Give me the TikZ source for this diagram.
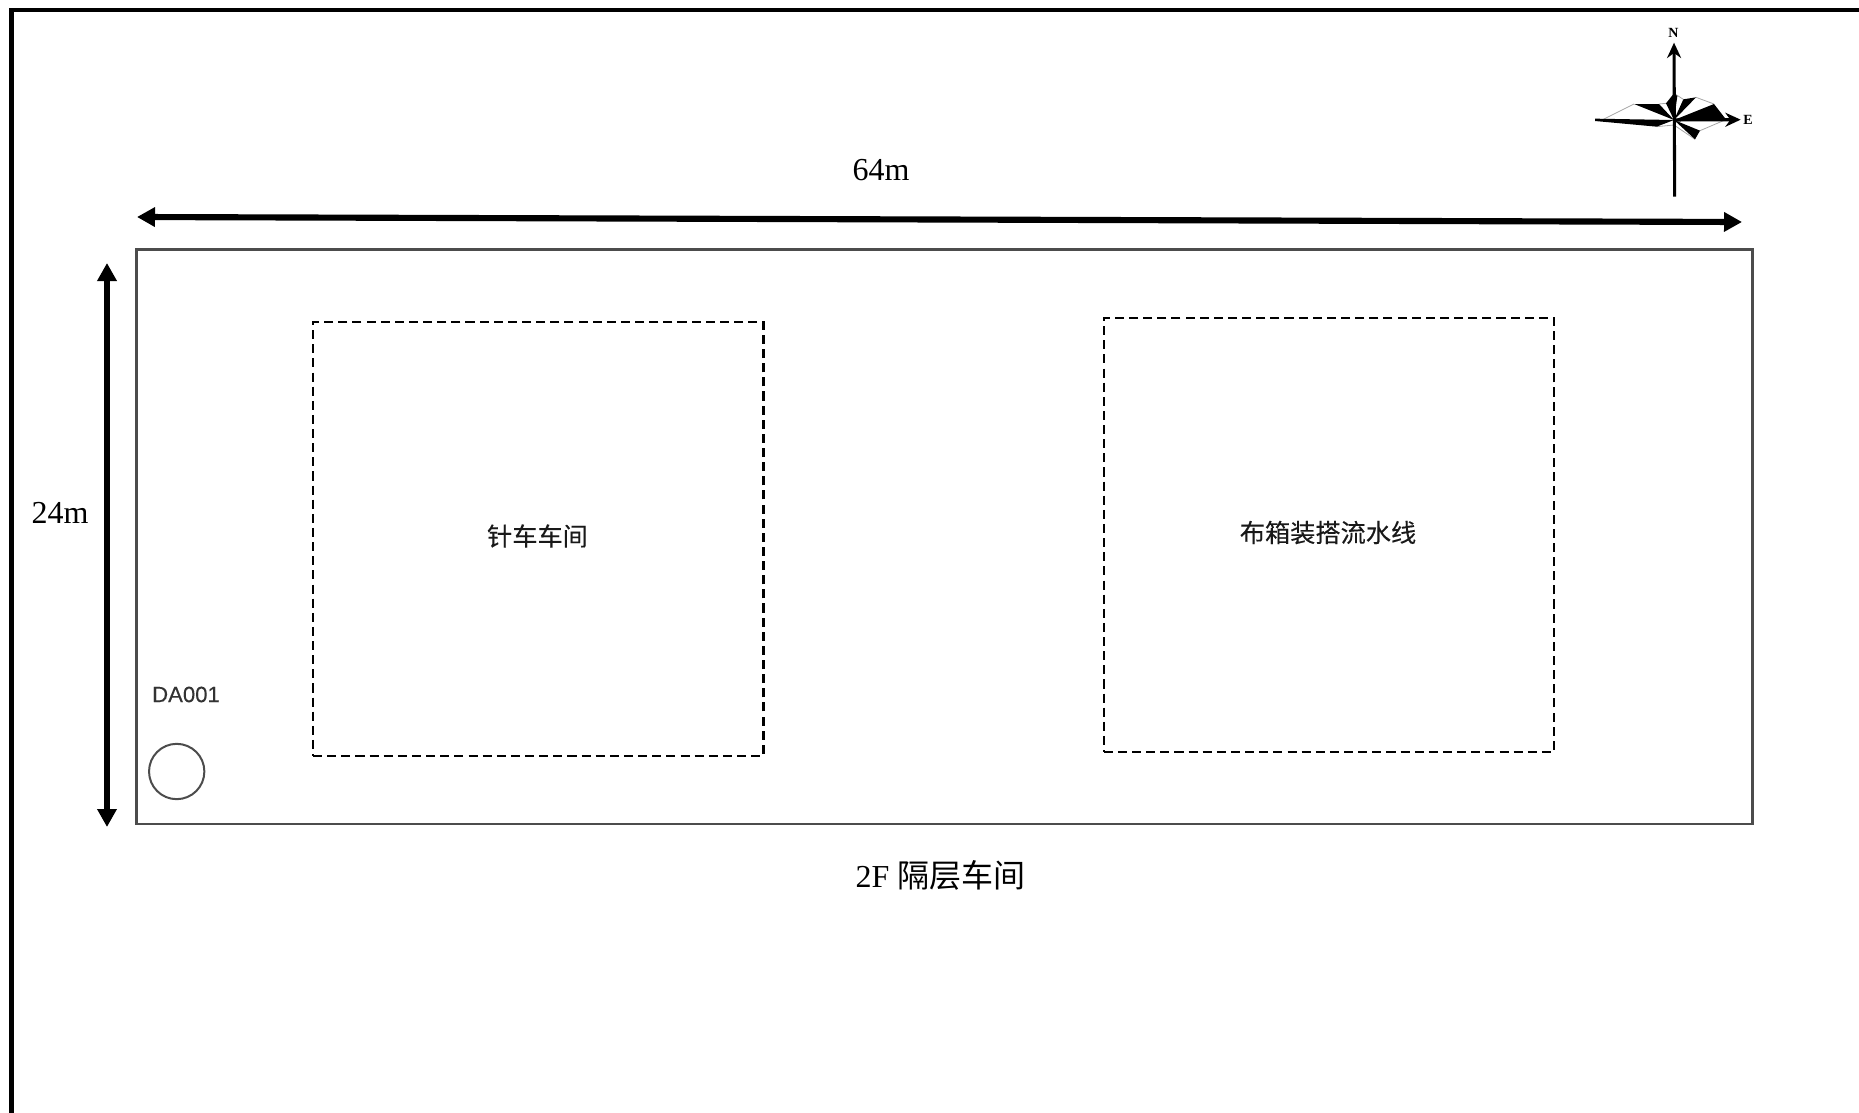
\documentclass[tikz,border=0pt]{standalone}
\usepackage{fontspec}
\setmainfont{Liberation Serif}
\newfontfamily\cjk{Noto Sans CJK SC}
\newfontfamily\cjkb[FakeBold=0.25]{Noto Sans CJK SC}
\newfontfamily\lsans[FakeBold=0.2]{Liberation Sans}
\usetikzlibrary{arrows.meta}
\tikzset{
  x=0.75pt,y=-0.75pt,
  dimline/.style={line width=4.6pt,{Triangle[length=13.5pt,width=14pt]}-{Triangle[length=13.5pt,width=14pt]}},
  wall/.style={draw=black!70,line width=1.6pt,inner sep=0pt,outer sep=0pt,minimum width=1212pt,minimum height=430.9pt},
  zone/.style={draw=black,line width=1.6pt,dash pattern=on 6.8pt off 3.8pt,inner sep=0pt,outer sep=0pt,minimum width=337.8pt,minimum height=325.3pt},
  point/.style={draw=black!70,circle,line width=1.5pt,inner sep=0pt,outer sep=0pt,minimum size=41.5pt},
  dimtext/.style={font=\fontsize{24pt}{28pt}\selectfont,text=black,inner sep=0pt},
  zonetext/.style={font=\cjkb\fontsize{18.9pt}{22pt}\selectfont,text=black!90,inner sep=0pt},
  petal/.style={fill=black,draw=none},
  rose/.style={draw=black!35,line width=0.6pt},
  compassaxis/.style={draw=black,line width=2.3pt,-{Stealth[length=11.5pt,width=10.5pt]}},
  compasstext/.style={font=\bfseries\fontsize{10.5pt}{12pt}\selectfont,inner sep=0pt},
}
\begin{document}
\begin{tikzpicture}
\useasboundingbox (0,0) rectangle (1859,1113);
% page frame
\draw[line width=3.2pt,black] (11.5,1113) -- (11.5,10) -- (1859,10);
% building and zones
\node[wall] (hall) at (944.5,536.75) {};
\node[zone] (zoneA) at (538.25,538.85) {};
\node[zone] (zoneB) at (1329,534.85) {};
\node[point] (da) at (176.7,771.5) {};
\node[font=\lsans\fontsize{16.6pt}{18pt}\selectfont,text=black!80,inner sep=0pt] (dal) at (186,694.5) {DA001};
\node[zonetext] (zaL) at (537.5,536) {针车车间};
\node[zonetext] (zbL) at (1328,532.5) {布箱装搭流水线};
% dimensions
\coordinate (wW) at (137,217);
\coordinate (wE) at (1742,222);
\coordinate (hN) at (107,263);
\coordinate (hS) at (107,827);
\draw[dimline] (wW) -- (wE);
\draw[dimline] (hN) -- (hS);
\node[dimtext] (wL) at (881,170) {64m};
\node[dimtext] (hL) at (60,513) {24m};
\node[font=\fontsize{24pt}{28pt}\selectfont,inner sep=0pt] (cap) at (940.5,875) {2F {\cjk 隔层车间}};
% compass
\begin{scope}[shift={(1560,10)},x=0.25pt,y=-0.25pt]
  \coordinate (c) at (342,330);
  \draw[rose] (130,328) -- (222,282) (297,282) -- (318,280) (342,250) -- (370,268) (408,262) -- (462,282) (495,330) -- (420,362) (405,388) -- (342,345) (342,345) -- (290,350);
  \fill[petal] (c) -- (105,326) -- (105,333) -- (290,350) -- cycle;
  \fill[petal] (c) -- (222,282) -- (297,282) -- cycle;
  \fill[petal] (c) -- (318,280) -- (342,250) -- (352,258) -- cycle;
  \fill[petal] (c) -- (370,268) -- (408,262) -- cycle;
  \fill[petal] (c) -- (462,282) -- (497,327) -- cycle;
  \fill[petal] (c) -- (420,362) -- (405,388) -- cycle;
  \coordinate (cs) at (344,560);
  \coordinate (cn) at (342,98);
  \coordinate (ce) at (542,329);
  \draw[compassaxis] (cs) -- (cn);
  \draw[compassaxis] (c) -- (ce);
  \node[compasstext] (nL) at (340,68) {N};
  \node[compasstext] (eL) at (564,331) {E};
\end{scope}
\end{tikzpicture}
\end{document}
